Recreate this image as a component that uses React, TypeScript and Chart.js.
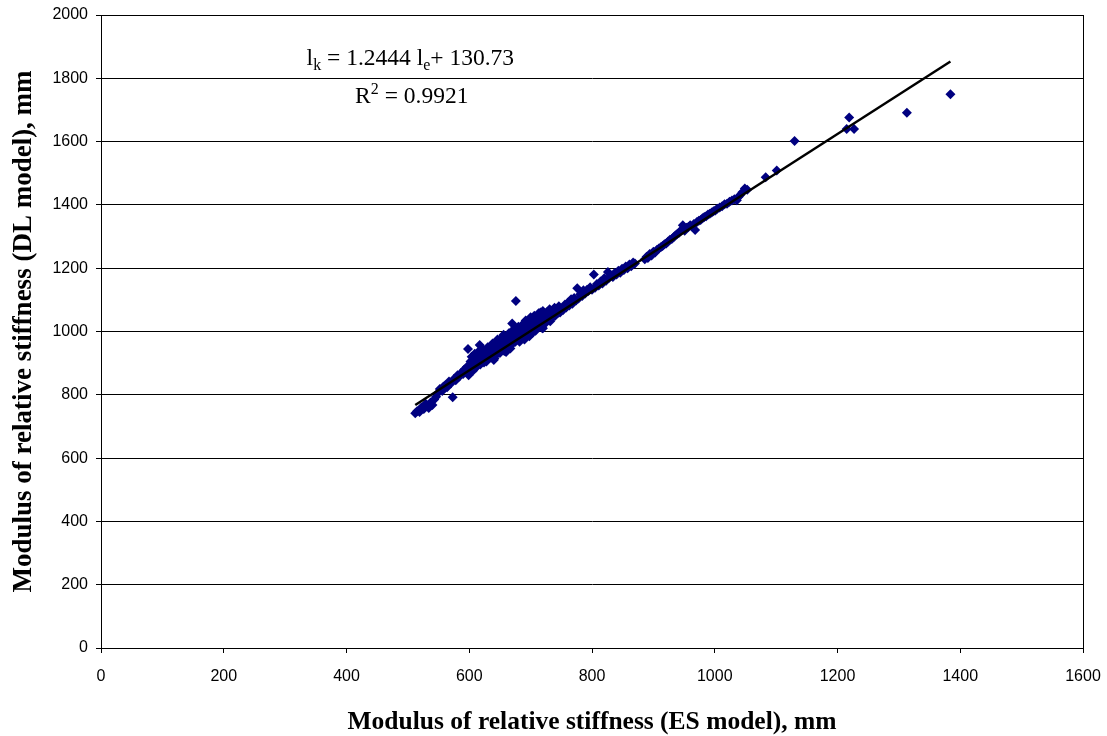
import React, { useEffect, useRef } from "react";
import { Chart, registerables } from "chart.js";

Chart.register(...registerables);

// Modulus of relative stiffness, ES model (x) and DL model (y), mm
const esValues: number[] = [
  512, 515, 519, 522, 526, 529, 531, 534, 537, 540, 543, 546, 549, 552, 556, 558, 561, 564, 567, 570,
  573, 575, 578, 581, 584, 587, 590, 592, 594, 596, 598, 599, 601, 603, 605, 606, 608, 610, 611, 613,
  615, 617, 618, 619, 621, 623, 624, 626, 627, 629, 631, 632, 634, 636, 637, 639, 640, 641, 642, 644,
  645, 647, 649, 650, 652, 654, 655, 657, 659, 660, 660, 662, 664, 665, 667, 668, 670, 671, 673, 675,
  676, 677, 679, 681, 682, 684, 686, 688, 689, 690, 691, 693, 695, 696, 698, 700, 701, 703, 705, 706,
  708, 710, 712, 713, 715, 717, 719, 720, 720, 722, 724, 726, 728, 730, 732, 734, 736, 738, 740, 742,
  744, 746, 748, 750, 753, 756, 758, 761, 763, 766, 768, 771, 774, 776, 778, 781, 784, 786, 789, 792,
  794, 797, 800, 803, 805, 808, 811, 814, 817, 820, 823, 826, 828, 831, 834, 837, 840, 843, 846, 849,
  852, 855, 858, 861, 864, 867, 870, 886, 889, 891, 894, 897, 900, 903, 906, 909, 912, 915, 918, 921,
  924, 927, 930, 933, 936, 939, 942, 945, 948, 951, 954, 957, 960, 963, 966, 968, 971, 974, 977, 980,
  983, 986, 989, 992, 995, 998, 1001, 1004, 1008, 1012, 1016, 1020, 1024, 1028, 1032, 1036, 1039, 1042, 1045, 1049,
  1053, 1083, 1101, 1130, 1215, 1219, 1227, 1313, 1384,
  602, 604, 607, 609, 612, 614, 616, 620, 622, 625, 628, 630, 633, 635, 638, 640, 643, 646, 648, 651,
  653, 656, 658, 661, 663, 666, 669, 672, 674, 678, 680, 683, 685, 687, 690, 692, 694, 697, 699, 702,
  704, 707, 709, 711, 714, 716, 718, 721, 723, 725, 727, 729, 731, 733, 735, 737, 739, 741, 743, 745,
];
const dlValues: number[] = [
  742, 748, 746, 760, 755, 772, 764, 758, 776, 768, 785, 794, 806, 818, 812, 826, 830, 824, 842, 836,
  792, 850, 846, 862, 858, 870, 866, 880, 874, 888, 945, 862, 895, 884, 902, 876, 912, 894, 886, 918,
  904, 957, 896, 925, 910, 932, 902, 918, 940, 912, 926, 948, 920, 935, 958, 930, 910, 915, 948, 965,
  928, 940, 972, 932, 955, 946, 985, 938, 962, 950, 935, 978, 958, 995, 946, 970, 1025, 962, 985, 968,
  1096, 1005, 975, 992, 968, 1010, 982, 1000, 978, 975, 1018, 990, 1030, 998, 985, 1045, 1008, 995, 1020, 1050,
  1002, 1032, 1015, 1058, 1022, 1040, 1010, 1065, 1010, 1035, 1026, 1048, 1038, 1060, 1032, 1052, 1044, 1070, 1050, 1062,
  1058, 1080, 1060, 1072, 1068, 1085, 1076, 1092, 1082, 1102, 1088, 1106, 1098, 1137, 1104, 1118, 1112, 1130, 1120, 1132,
  1128, 1140, 1132, 1180, 1138, 1150, 1145, 1158, 1152, 1168, 1160, 1188, 1170, 1176, 1172, 1185, 1180, 1192, 1186, 1198,
  1194, 1205, 1200, 1212, 1206, 1218, 1215, 1228, 1236, 1232, 1245, 1240, 1252, 1250, 1258, 1262, 1266, 1270, 1276, 1278,
  1284, 1290, 1292, 1298, 1304, 1308, 1312, 1320, 1336, 1318, 1328, 1330, 1336, 1332, 1340, 1321, 1346, 1350, 1352, 1358,
  1362, 1364, 1370, 1372, 1376, 1380, 1382, 1388, 1392, 1396, 1402, 1404, 1410, 1414, 1418, 1415, 1426, 1432, 1440, 1452,
  1448, 1487, 1509, 1602, 1640, 1676, 1640, 1691, 1750,
  905, 920, 898, 930, 915, 900, 938, 918, 945, 928, 905, 950, 935, 918, 962, 945, 930, 975, 950, 938,
  968, 990, 950, 965, 985, 960, 998, 975, 1010, 990, 1015, 985, 1000, 1022, 995, 1035, 1005, 1015, 1025, 1040,
  1010, 1030, 1045, 1025, 1040, 1060, 1030, 1045, 1055, 1035, 1062, 1045, 1070, 1048, 1060, 1055, 1075, 1060, 1070, 1068,
];

// Linear trend line end points (lk = 1.2444 le + 130.73)
const trendX: number[] = [512, 1384];
const trendY: number[] = [767.9, 1853.0];

const xTicks: number[] = [0, 200, 400, 600, 800, 1000, 1200, 1400, 1600];
const yTicks: number[] = [0, 200, 400, 600, 800, 1000, 1200, 1400, 1600, 1800, 2000];

const xTitle = "Modulus of relative stiffness (ES model), mm";
const yTitle = "Modulus of relative stiffness (DL model), mm";

// Equation label anchors (data units)
const EQ1_AT = { x: 335, y: 1842 };
const EQ2_AT = { x: 414, y: 1722 };

const SERIF = "'Liberation Serif', 'Times New Roman', serif";
const SANS = "'Liberation Sans', Arial, sans-serif";

const overlayPlugin = {
  id: "overlay",
  afterDraw(chart: any) {
    const { ctx, chartArea, scales } = chart;
    ctx.save();
    ctx.strokeStyle = "#000";
    ctx.lineWidth = 1;
    ctx.strokeRect(
      Math.round(chartArea.left) + 0.5,
      Math.round(chartArea.top) + 0.5,
      Math.round(chartArea.right - chartArea.left),
      Math.round(chartArea.bottom - chartArea.top)
    );
    ctx.fillStyle = "#000";
    ctx.textBaseline = "alphabetic";
    ctx.textAlign = "left";
    const big = `23.5px ${SERIF}`;
    const small = `16px ${SERIF}`;
    const drawParts = (x: number, y: number, parts: [string, string, number][]) => {
      let cx = x;
      for (const [t, f, dy] of parts) {
        ctx.font = f;
        ctx.fillText(t, cx, y + dy);
        cx += ctx.measureText(t).width;
      }
    };
    const x1 = scales.x.getPixelForValue(EQ1_AT.x);
    const y1 = scales.y.getPixelForValue(EQ1_AT.y);
    drawParts(x1, y1, [
      ["l", big, 0],
      ["k", small, 5],
      [" = 1.2444 l", big, 0],
      ["e", small, 5],
      ["+ 130.73", big, 0],
    ]);
    const x2 = scales.x.getPixelForValue(EQ2_AT.x);
    const y2 = scales.y.getPixelForValue(EQ2_AT.y);
    drawParts(x2, y2, [
      ["R", big, 0],
      ["2", small, -9],
      [" = 0.9921", big, 0],
    ]);
    ctx.restore();
  },
};

export default function App() {
  const ref = useRef<HTMLCanvasElement | null>(null);
  useEffect(() => {
    if (!ref.current) return;
    const points = esValues.map((x, i) => ({ x, y: dlValues[i] }));
    const trend = trendX.map((x, i) => ({ x, y: trendY[i] }));
    const chart = new Chart(ref.current, {
      type: "scatter",
      data: {
        datasets: [
          {
            type: "line",
            label: "Trend",
            data: trend,
            borderColor: "#000",
            borderWidth: 2.5,
            pointRadius: 0,
            fill: false,
            order: 0,
          } as any,
          {
            label: "Data",
            data: points,
            pointStyle: "rectRot",
            pointRadius: 5,
            pointBackgroundColor: "#000080",
            pointBorderColor: "#000080",
            pointBorderWidth: 0,
            order: 1,
          },
        ],
      },
      options: {
        responsive: false,
        animation: false,
        layout: { padding: { top: 15, right: 24, left: 0, bottom: 0 } },
        plugins: { legend: { display: false }, tooltip: { enabled: false } },
        scales: {
          x: {
            type: "linear",
            min: 0,
            max: 1600,
            afterBuildTicks: (s: any) => {
              s.ticks = xTicks.map((v) => ({ value: v }));
            },
            afterFit: (s: any) => {
              s.height = 88;
              s.paddingRight = 0;
              s.paddingLeft = 0;
            },
            ticks: {
              color: "#000",
              font: { family: SANS, size: 16 },
              padding: 14,
              maxRotation: 0,
              callback: (v: any) => String(v),
            },
            grid: {
              drawOnChartArea: false,
              drawTicks: true,
              tickLength: 5,
              color: "#000",
            },
            border: { color: "#000", width: 1 },
            title: {
              display: true,
              text: xTitle,
              color: "#000",
              font: { family: SERIF, size: 25.5, weight: "bold" },
              padding: { top: 0, bottom: -2 },
            },
          },
          y: {
            type: "linear",
            min: 0,
            max: 2000,
            afterBuildTicks: (s: any) => {
              s.ticks = yTicks.map((v) => ({ value: v }));
            },
            afterFit: (s: any) => {
              s.width = 101;
              s.paddingTop = 0;
              s.paddingBottom = 0;
            },
            ticks: {
              color: "#000",
              font: { family: SANS, size: 16 },
              padding: 8,
              callback: (v: any) => String(v),
            },
            grid: {
              drawOnChartArea: true,
              drawTicks: true,
              tickLength: 5,
              color: "#000",
              lineWidth: 1,
            },
            border: { color: "#000", width: 1 },
            title: {
              display: true,
              text: yTitle,
              color: "#000",
              font: { family: SERIF, size: 27, weight: "bold" },
              padding: { top: 8, bottom: 0 },
            },
          },
        },
      },
      plugins: [overlayPlugin],
    });
    return () => chart.destroy();
  }, []);
  return (
    <div style={{ position: "absolute", left: 0, top: 0, width: 1107, height: 736, background: "#fff" }}>
      <canvas ref={ref} width={1107} height={736} style={{ display: "block" }} />
    </div>
  );
}
